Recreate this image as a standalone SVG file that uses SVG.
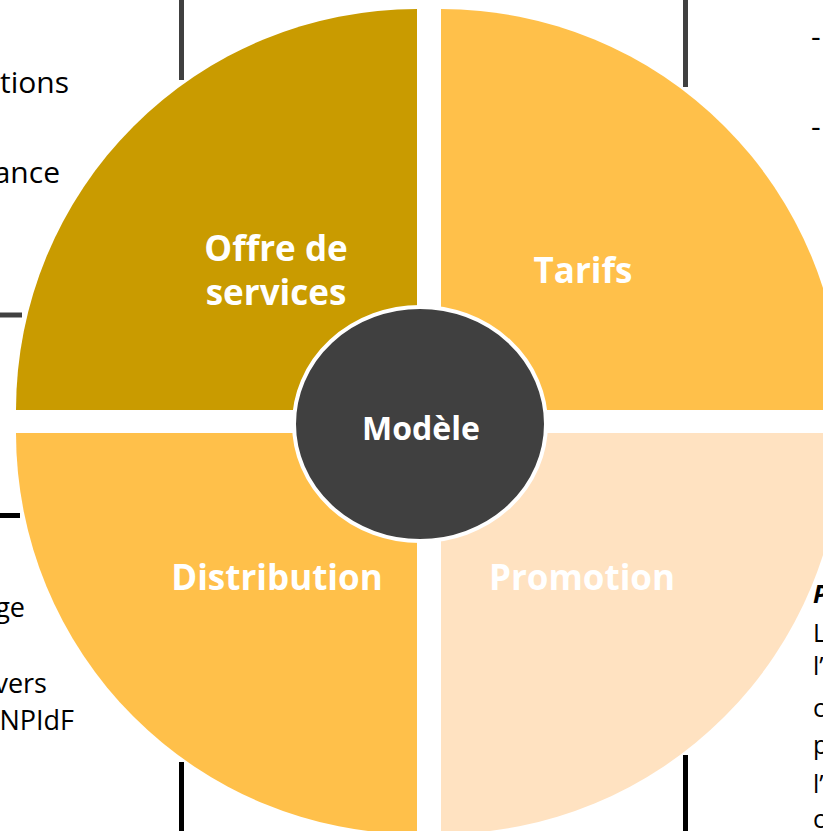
<svg xmlns="http://www.w3.org/2000/svg" width="823" height="831" viewBox="0 0 823 831">
<style>
.lbl{font-family:"Open Sans","Liberation Sans",sans-serif;font-weight:700;fill:#ffffff;text-anchor:middle}
.body{font-family:"Open Sans","Liberation Sans",sans-serif;fill:#000000}
.ln-g{stroke:#404040;stroke-width:5;fill:none}
.ln-k{stroke:#000000;stroke-width:5;fill:none}
</style>
<rect width="823" height="831" fill="#ffffff"/>
<g id="connectors">
<line class="ln-g" x1="181.5" y1="0" x2="181.5" y2="80"/>
<line class="ln-g" x1="685.5" y1="0" x2="685.5" y2="87"/>
<line class="ln-g" x1="0" y1="315" x2="22" y2="315"/>
<line class="ln-k" x1="0" y1="515.5" x2="20" y2="515.5"/>
<line class="ln-k" x1="181.5" y1="762" x2="181.5" y2="831"/>
<line class="ln-k" x1="685.5" y1="755" x2="685.5" y2="831"/>
</g>
<g id="side-text" class="body">
<text x="69" y="93" font-size="30" text-anchor="end">tions</text>
<text x="60" y="183" font-size="30" text-anchor="end">ance</text>
<text x="25" y="617" font-size="27" text-anchor="end">ge</text>
<text x="47" y="693" font-size="27" text-anchor="end">vers</text>
<text x="74" y="730" font-size="27" text-anchor="end">NPIdF</text>
<text x="811" y="47" font-size="30">-</text>
<text x="811" y="137" font-size="30">-</text>
<text x="813" y="603" font-size="25" font-weight="700" font-style="italic">P</text>
<text x="813" y="642" font-size="25">L</text>
<text x="813" y="675" font-size="25">l’</text>
<text x="813" y="717" font-size="25">c</text>
<text x="813" y="754" font-size="25">p</text>
<text x="813" y="793" font-size="25">l’</text>
<text x="813" y="828" font-size="25">c</text>
</g>
<g id="offre">
<path d="M417,410 L417,9 A401,401 0 0 0 16,410 Z" fill="#C99B00"/>
<text class="lbl" x="276" y="261" font-size="35">Offre de</text>
<text class="lbl" x="276" y="305" font-size="35">services</text>
</g>
<g id="tarifs">
<path d="M441,410 L441,9 A401,401 0 0 1 842,410 Z" fill="#FFC04A"/>
<text class="lbl" x="583" y="283" font-size="35">Tarifs</text>
</g>
<g id="distribution">
<path d="M417,433 L16,433 A401,401 0 0 0 417,834 Z" fill="#FFC04A"/>
<text class="lbl" x="277" y="590" font-size="35">Distribution</text>
</g>
<g id="promotion">
<path d="M441,433 L842,433 A401,401 0 0 1 441,834 Z" fill="#FFE2C1"/>
<text class="lbl" x="582" y="590" font-size="35">Promotion</text>
</g>
<g id="modele">
<ellipse cx="420" cy="424" rx="126" ry="117" fill="#404040" stroke="#ffffff" stroke-width="4"/>
<text class="lbl" x="421" y="440" font-size="32">Modèle</text>
</g>
</svg>
